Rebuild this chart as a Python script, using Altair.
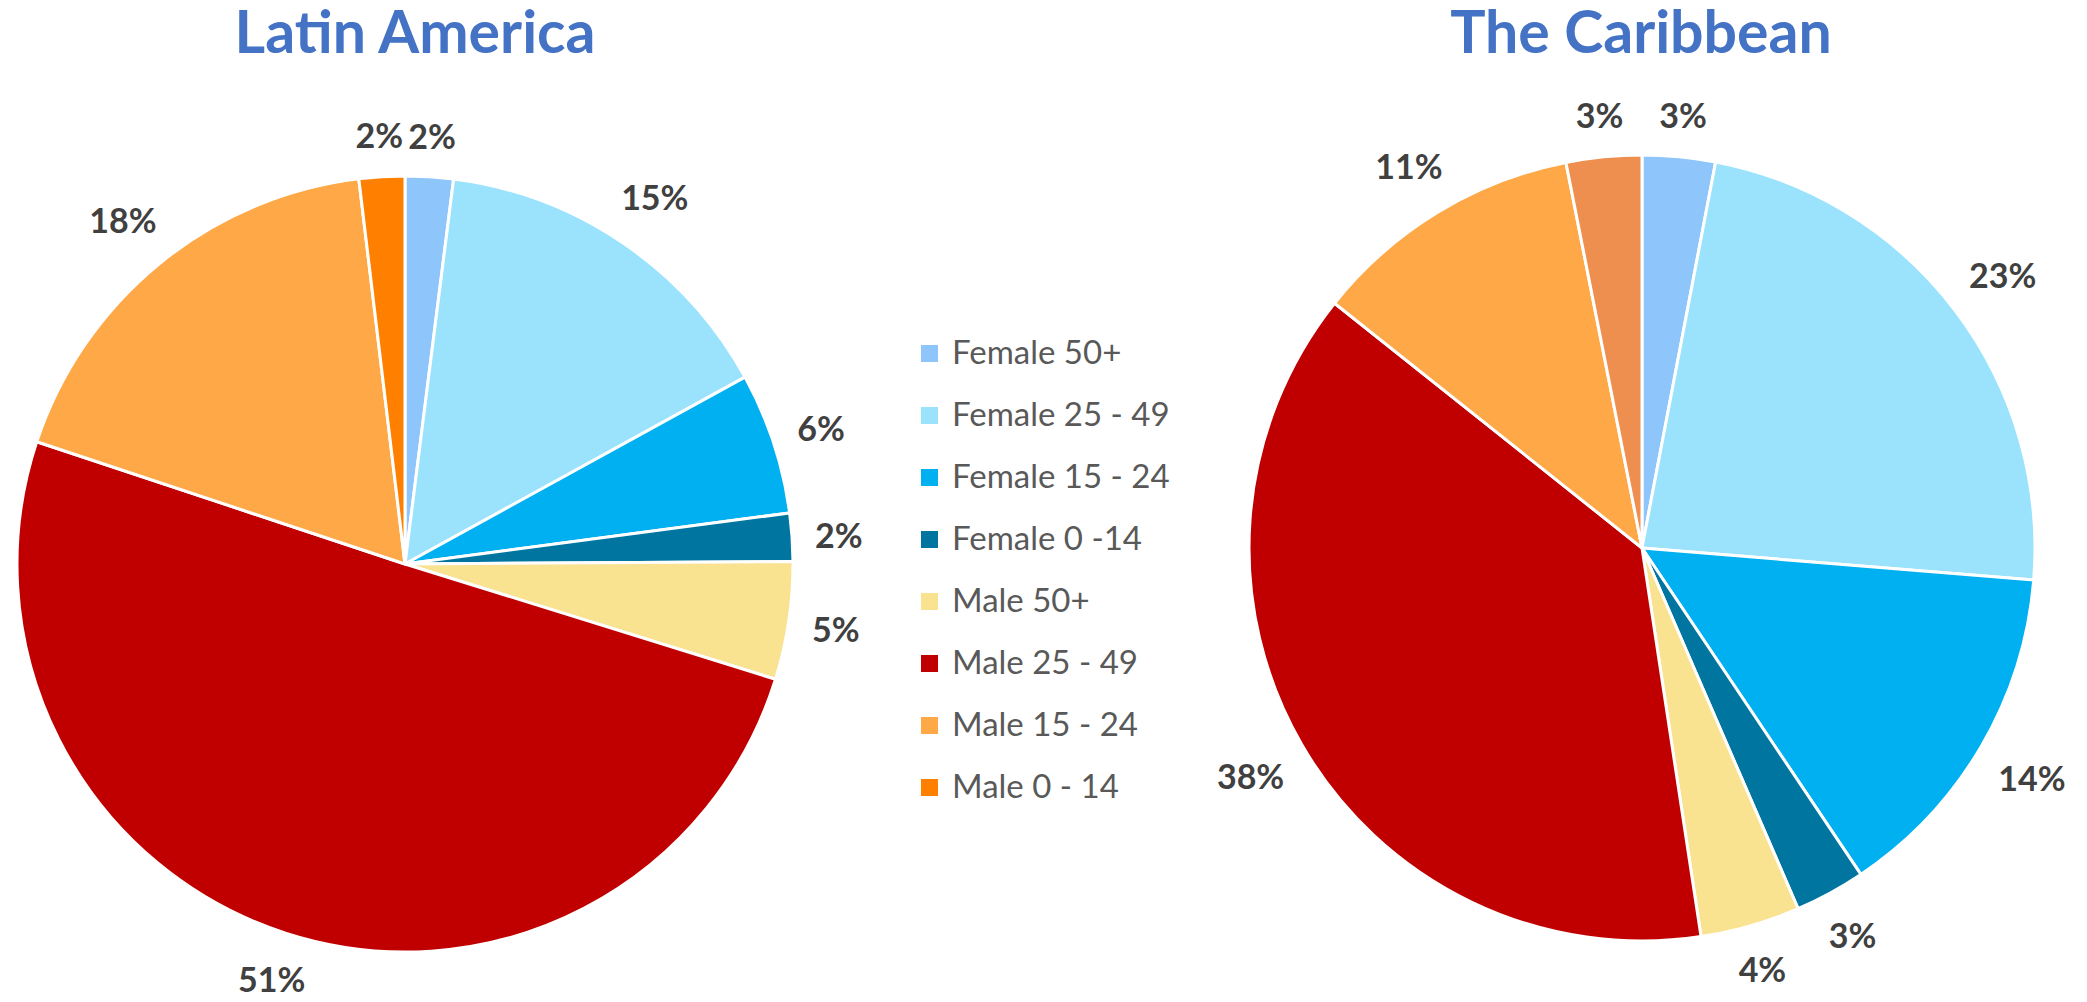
import altair as alt
import pandas as pd

categories = ["Female 50+", "Female 25 - 49", "Female 15 - 24", "Female 0 -14",
              "Male 50+", "Male 25 - 49", "Male 15 - 24", "Male 0 - 14"]
latam_values = [2.0, 15.0, 5.9, 2.0, 4.9, 50.3, 18.0, 1.9]
latam_labels = ["2%", "15%", "6%", "2%", "5%", "51%", "18%", "2%"]
carib_values = [3.0, 23.3, 14.3, 2.9, 4.1, 38.1, 11.2, 3.1]
carib_labels = ["3%", "23%", "14%", "3%", "4%", "38%", "11%", "3%"]
colors = ["#8EC6FC", "#9BE3FD", "#00B0F0", "#0075A0",
          "#F9E290", "#C00000", "#FFA848", "#FF8000"]
carib_m014_key = "Male 0 - 14 (Caribbean)"
carib_m014_color = "#EE8F4F"

LABEL_SIZE = 34

def make_df(values, labels, carib=False):
    keys = list(categories)
    if carib:
        keys[-1] = carib_m014_key
    return pd.DataFrame({"idx": list(range(len(values))), "cat": categories,
                         "key": keys, "value": values, "label": labels})

color_scale = alt.Scale(domain=categories + [carib_m014_key], range=colors + [carib_m014_color])
legend = alt.Legend(orient="none", legendX=905, legendY=329, title=None, values=categories,
                    symbolType="square", symbolSize=289, symbolStrokeWidth=0,
                    labelFont="Lato", labelFontSize=33, labelColor="#595959", labelLimit=600,
                    labelOffset=6, rowPadding=28, padding=0, direction="vertical")

def pie(df, cx, cy, r, gap, title, tx, with_legend):
    arcs = alt.Chart(df).mark_arc(radius=r, stroke="white", strokeWidth=3).encode(
        theta=alt.Theta("value:Q", stack=True),
        order=alt.Order("idx:Q"),
        x=alt.value(cx), y=alt.value(cy),
        color=alt.Color("key:N", scale=color_scale, legend=legend if with_legend else None))
    # label placed just outside the slice edge (Excel "outside end" style)
    labels = alt.Chart(df).transform_window(
        cum="sum(value)", sort=[alt.SortField("idx")], frame=[None, 0]
    ).transform_joinaggregate(total="sum(value)").transform_calculate(
        mid="2*PI*(datum.cum - datum.value/2)/datum.total"
    ).transform_calculate(
        lr=(f"{r + gap} + length(datum.label)*{0.32 * LABEL_SIZE}*abs(sin(datum.mid))"
            f" + {0.5 * LABEL_SIZE}*abs(cos(datum.mid)) - 3*max(0, -cos(datum.mid))")
    ).mark_text(font="Lato", fontSize=LABEL_SIZE, fontWeight="bold", dy=4,
                color="#404040", align="center", baseline="middle").encode(
        theta=alt.Theta("mid:Q", scale=None),
        radius=alt.Radius("lr:Q", scale=None),
        x=alt.value(cx), y=alt.value(cy),
        text="label:N")
    ttl = alt.Chart(pd.DataFrame({"t": [title]})).mark_text(
        font="Lato", fontSize=59, fontWeight="bold", color="#4472C4",
        align="center", baseline="alphabetic").encode(
        x=alt.value(tx), y=alt.value(45), text="t:N")
    return [arcs, labels, ttl]

layers = (pie(make_df(latam_values, latam_labels), 397, 556, 388, 24, "Latin America", 407, True)
          + pie(make_df(carib_values, carib_labels, True), 1634, 540, 393, 24, "The Caribbean", 1633, False))

chart = alt.layer(*layers).resolve_scale(theta="independent", radius="independent").properties(
    width=2071, height=986, autosize=alt.AutoSizeParams(type="none"), padding=0
).configure_view(stroke=None)

chart.save("out.html", embed_options={"renderer": "svg", "actions": False})
